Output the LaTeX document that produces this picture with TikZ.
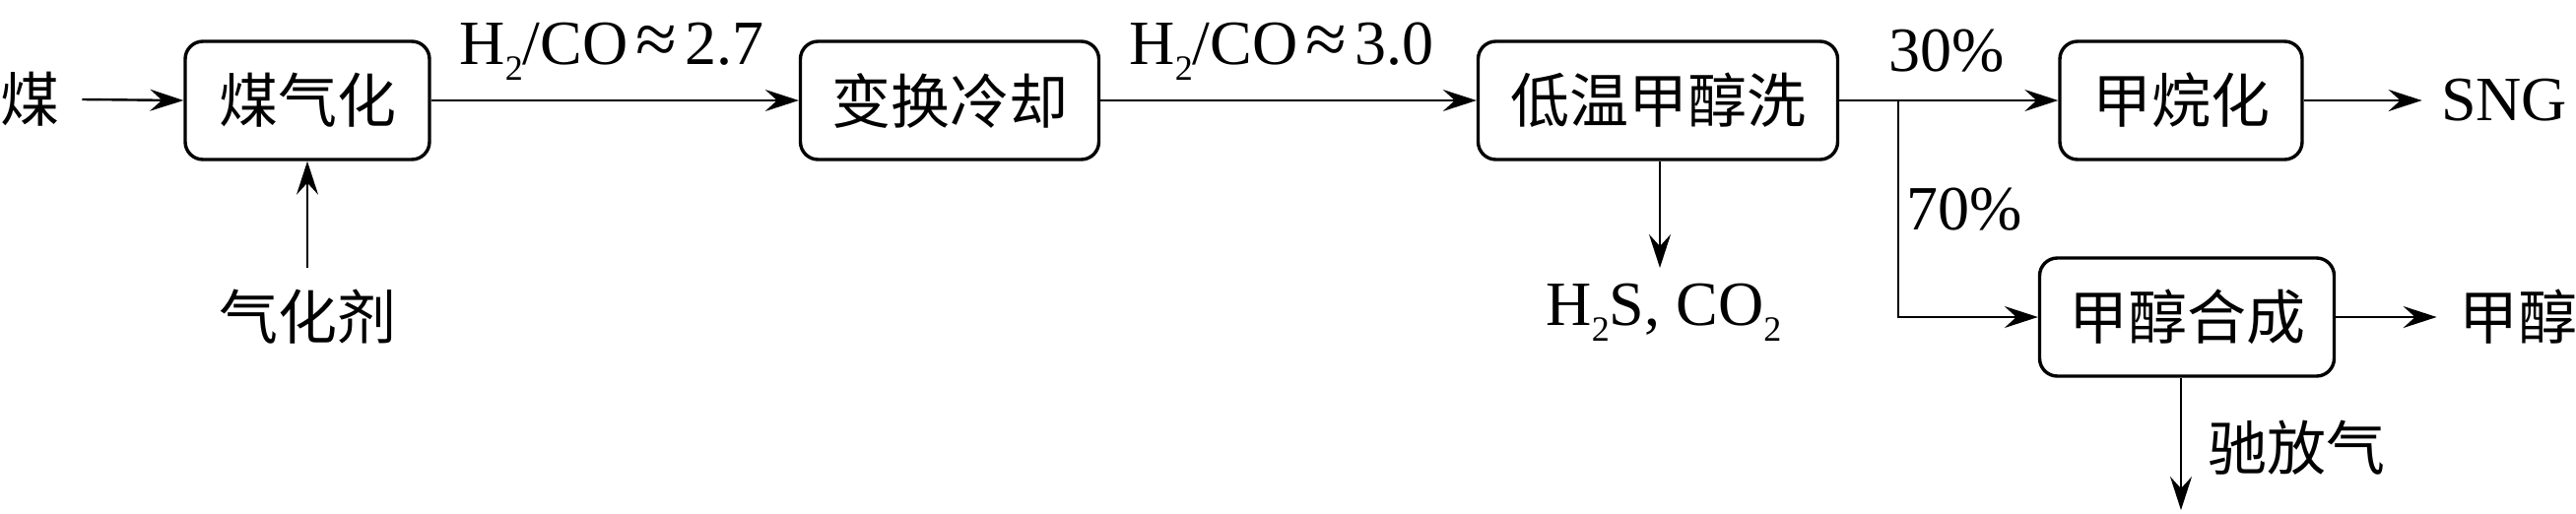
\documentclass[tikz,border=0pt]{standalone}
\usepackage{fontspec}
\usepackage{graphicx}
\setmainfont{Liberation Serif}
\newfontfamily\cjk{Noto Sans CJK SC}
\usetikzlibrary{arrows.meta}
\newcommand\subs[1]{\raisebox{-8pt}{\fontsize{18pt}{18pt}\selectfont #1}}
\newcommand\apx{\hspace{4pt}\raisebox{0pt}{\fontsize{38pt}{38pt}\selectfont ≈}\hspace{4pt}}
\begin{document}
\begin{tikzpicture}[x=0.5pt,y=-0.5pt,
  box/.style={draw,line width=1.7pt,rounded corners=9pt,minimum height=60pt,inner sep=0pt,
    font=\cjk\fontsize{30pt}{30pt}\selectfont},
  zh/.style={inner sep=0pt,font=\cjk\fontsize{30pt}{30pt}\selectfont},
  lat/.style={inner sep=0pt,font=\fontsize{32pt}{32pt}\selectfont},
  arr/.style={line width=1.2pt,-{Stealth[length=17pt,width=11pt,inset=6pt]}},
  ln/.style={line width=1.2pt}]
\useasboundingbox (0,0) rectangle (2615,521);
% boxes
\node[box,minimum width=124pt]   (b1) at (312,102)  {煤气化};
\node[box,minimum width=151.5pt] (b2) at (964,102)  {变换冷却};
\node[box,minimum width=182.5pt] (b3) at (1683,102) {低温甲醇洗};
\node[box,minimum width=123pt]   (b4) at (2214,102) {甲烷化};
\node[box,minimum width=149.5pt] (b5) at (2220,322) {甲醇合成};
% texts
\node[zh] (coal) at (30,101) {煤};
\node[zh] (agent) at (312,322) {气化剂};
\node[lat,anchor=base] (sng) at (2542,122) {SNG};
\node[zh] (meoh) at (2556,322) {甲醇};
\node[lat,anchor=base] (gas) at (1689,330) {H\subs{2}S, CO\subs{2}};
\node[zh] (vtext) at (2331,455) {驰放气};
\node[lat,anchor=base] (l1) at (621,65) {H\subs{2}/CO\apx 2.7};
\node[lat,anchor=base] (l2) at (1301,65) {H\subs{2}/CO\apx 3.0};
\node[lat,anchor=base] (p30) at (1976,72) {30\%};
\node[lat,anchor=base] (p70) at (1994,233) {70\%};
% coordinates
\coordinate (split) at (1927,102);
\coordinate (agtop) at (312,272);
\coordinate (gastop) at (1685,272);
\coordinate (vent) at (2214,518);
% connectors
\draw[arr] ([xshift=11.5pt]coal.east) -- (b1.west);
\draw[arr] (agtop) -- (b1.south);
\draw[arr] (b1.east) -- (b2.west);
\draw[arr] (b2.east) -- (b3.west);
\draw[ln] (b3.east) -- (split);
\draw[arr] (split) -- (b4.west);
\draw[arr] (split) |- (b5.west);
\draw[arr] (b4.east) -- ([xshift=-9.5pt]sng.west |- b4.east);
\draw[arr] (b5.east) -- ([xshift=-11pt]meoh.west);
\draw[arr] (b3.south -| gastop) -- (gastop);
\draw[arr] (b5.south -| vent) -- (vent);
\end{tikzpicture}
\end{document}
